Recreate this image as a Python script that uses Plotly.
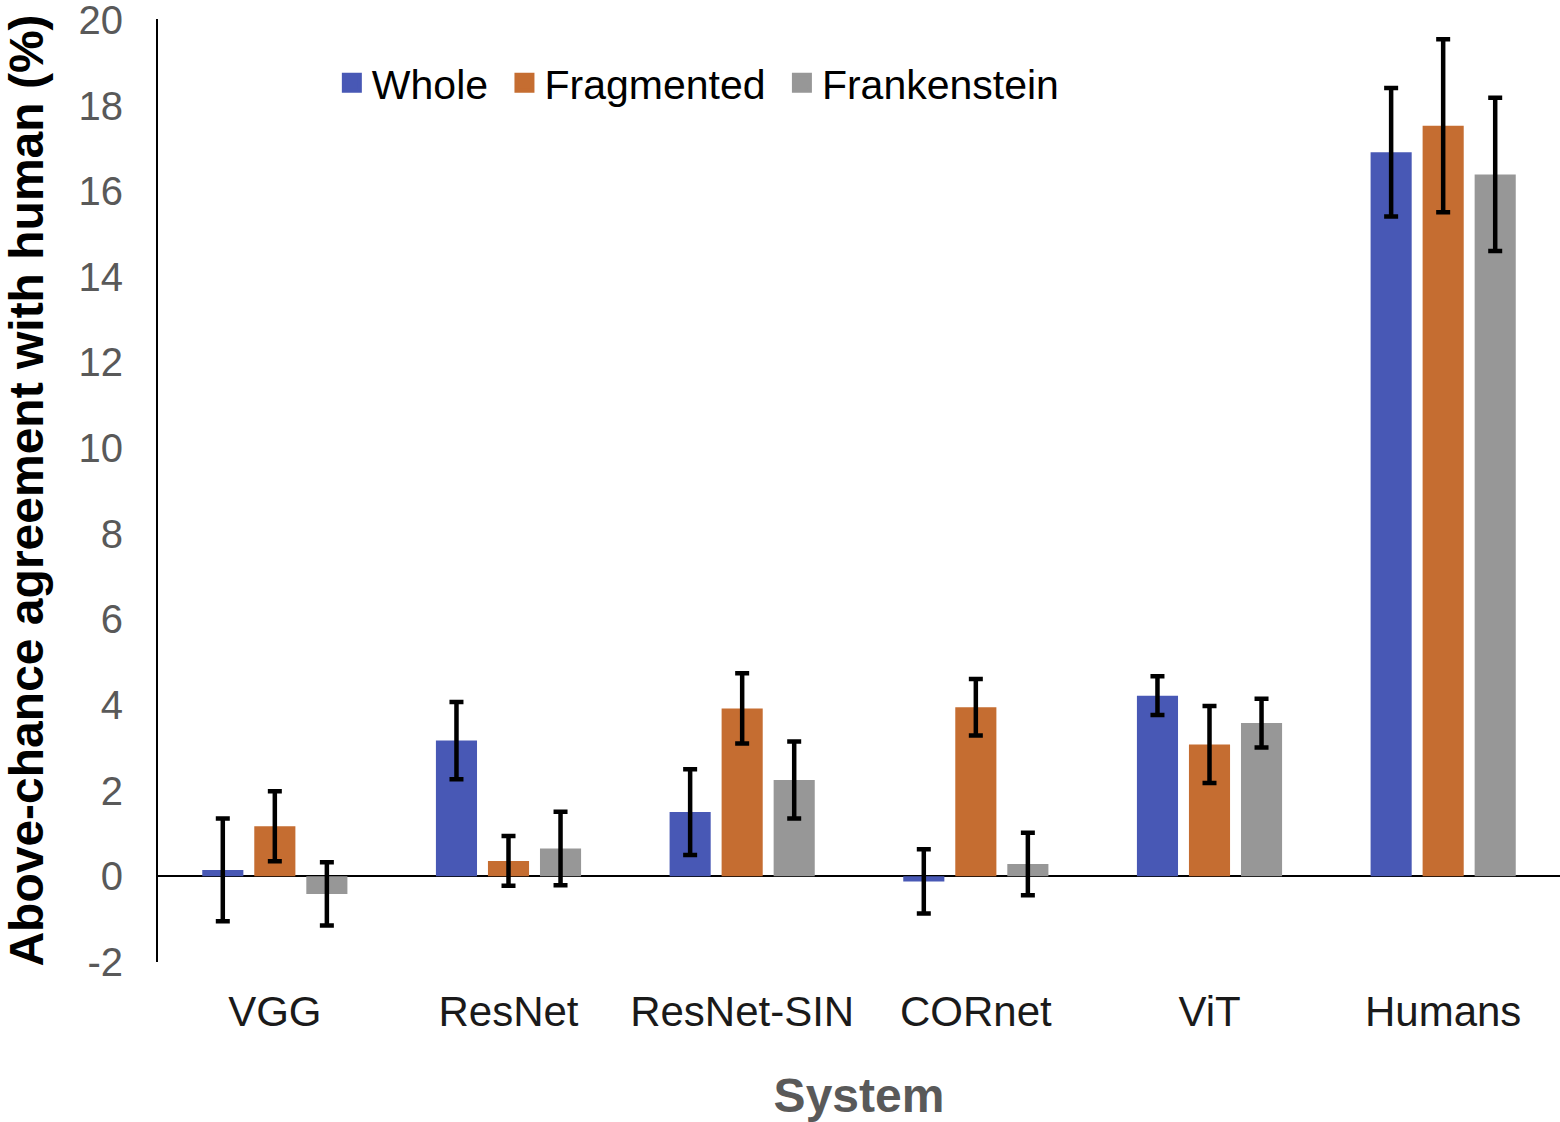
import plotly.graph_objects as go

systems = ["VGG", "ResNet", "ResNet-SIN", "CORnet", "ViT", "Humans"]

whole = [0.15, 3.17, 1.50, -0.12, 4.22, 16.91]
whole_err = [1.20, 0.90, 1.00, 0.75, 0.45, 1.50]

fragmented = [1.17, 0.36, 3.92, 3.95, 3.08, 17.53]
fragmented_err = [0.82, 0.58, 0.82, 0.66, 0.90, 2.02]

frankenstein = [-0.41, 0.65, 2.25, 0.29, 3.58, 16.39]
frankenstein_err = [0.74, 0.86, 0.90, 0.73, 0.57, 1.79]

y_ticks = [-2, 0, 2, 4, 6, 8, 10, 12, 14, 16, 18, 20]

series = [
    ("Whole", whole, whole_err, "#4858B5"),
    ("Fragmented", fragmented, fragmented_err, "#C56D31"),
    ("Frankenstein", frankenstein, frankenstein_err, "#979797"),
]

fig = go.Figure()
for name, vals, errs, color in series:
    fig.add_trace(go.Bar(
        x=systems,
        y=vals,
        name=name,
        showlegend=False,
        marker=dict(color=color, line=dict(width=0)),
        error_y=dict(type="data", array=errs, visible=True,
                     color="black", thickness=4.5, width=7),
    ))

# legend entries with big square swatches, like the original
for name, vals, errs, color in series:
    fig.add_trace(go.Scatter(
        x=[None], y=[None],
        mode="markers",
        name=name + "\u00a0",
        marker=dict(symbol="square", size=16, color=color,
                    line=dict(color=color, width=4)),
    ))

fig.update_layout(
    width=1560,
    height=1122,
    margin=dict(l=158, r=0, t=19, b=160),
    plot_bgcolor="white",
    paper_bgcolor="white",
    barmode="group",
    bargap=0.332,
    bargroupgap=0.21,
    font=dict(family="Liberation Sans, Arial, sans-serif", size=40, color="#595959"),
    legend=dict(
        orientation="h",
        x=0.124, y=0.932,
        xanchor="left", yanchor="middle",
        font=dict(size=41, color="#000000"),
        bgcolor="rgba(0,0,0,0)",
    ),
    xaxis=dict(
        title=dict(text="<b>System</b>", font=dict(size=48, color="#595959"), standoff=46),
        automargin=False,
        showline=False,
        showgrid=False,
        ticks="",
        ticklabelstandoff=21,
        tickfont=dict(size=42, color="#1A1A1A"),
    ),
    yaxis=dict(
        title=dict(text="<b>Above-chance agreement with human (%)</b>",
                   font=dict(size=48, color="#000000"), standoff=40),
        automargin=False,
        range=[-2, 20.02],
        tickmode="array",
        tickvals=y_ticks,
        ticktext=[str(v) for v in y_ticks],
        ticklabeloverflow="allow",
        showgrid=False,
        showline=True,
        linecolor="black",
        linewidth=2,
        zeroline=True,
        zerolinecolor="black",
        zerolinewidth=2,
        ticks="",
        ticklabelstandoff=25,
        tickfont=dict(size=40, color="#595959"),
    ),
)

fig.write_html("out.html", config={"displayModeBar": False},
               post_script="document.body.style.margin='0';")
